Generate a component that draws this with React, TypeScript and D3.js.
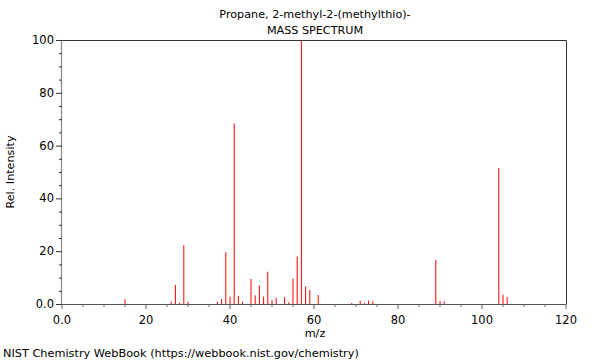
import React from "react";
import * as d3 from "d3";

const mzValues = [15, 26, 27, 28, 29, 30, 37, 38, 39, 40, 41, 42, 43, 45, 46, 47, 48, 49, 50, 51, 53, 54, 55, 56, 57, 58, 59, 61, 69, 71, 72, 73, 74, 89, 90, 91, 104, 105, 106];
const intensities = [1.8, 0.9, 7.2, 0.5, 22.3, 0.9, 0.8, 1.9, 19.6, 2.8, 68.4, 3.1, 0.9, 9.5, 3.3, 7.0, 2.8, 12.2, 1.5, 2.3, 2.6, 0.7, 9.6, 18.0, 100, 6.6, 5.3, 3.4, 0.4, 1.3, 0.4, 1.3, 1.0, 16.7, 1.1, 1.0, 51.5, 3.5, 2.6];
const xMajorTicks = [0, 20, 40, 60, 80, 100, 120];
const xTickLabels = ["0.0", "20", "40", "60", "80", "100", "120"];
const yMajorTicks = [0, 20, 40, 60, 80, 100];
const yTickLabels = ["0.0", "20", "40", "60", "80", "100"];
const titleLines = ["Propane, 2-methyl-2-(methylthio)-", "MASS SPECTRUM"];

export default function App() {
  const W = 600, H = 360;
  const left = 62, right = 566, top = 40, bottom = 304;
  const x = d3.scaleLinear().domain([0, 120]).range([left, right]);
  const y = d3.scaleLinear().domain([0, 100]).range([bottom, top]);
  const xMinor = d3.range(0, 121, 5).filter((v) => v % 20 !== 0);
  const yMinor = d3.range(0, 101, 5).filter((v) => v % 20 !== 0);
  const font = "DejaVu Sans, sans-serif";
  const cx = (left + right) / 2 - 1;
  return (
    <svg width={W} height={H} style={{ position: "absolute", left: 0, top: 0 }} fontFamily={font}>
      <rect width={W} height={H} fill="#fff" />
      <text x={cx + 2} y={18} fontSize={11.2} textAnchor="middle" fill="#000">{titleLines[0]}</text>
      <text x={cx + 2} y={34} fontSize={11.2} textAnchor="middle" fill="#000">{titleLines[1]}</text>
      {mzValues.map((m, i) => (
        <line key={m} x1={x(m)} x2={x(m)} y1={y(0)} y2={y(intensities[i])} stroke="#ff0000" strokeWidth={1} />
      ))}
      <path d={`M${left},${top + 0.5}H${right + 0.5}V${bottom}`} fill="none" stroke="#333" strokeWidth={1} />
      <line x1={left - 0.5} x2={left - 0.5} y1={top} y2={bottom} stroke="#888" strokeWidth={1.2} />
      <line x1={left} x2={right + 0.5} y1={bottom + 0.5} y2={bottom + 0.5} stroke="#555" strokeWidth={1} />
      {xMajorTicks.map((t, i) => (
        <g key={t}>
          <line x1={x(t)} x2={x(t)} y1={bottom} y2={bottom + 5} stroke="#666" />
          <text x={x(t)} y={bottom + 20} fontSize={11.5} textAnchor="middle" fill="#000">{xTickLabels[i]}</text>
        </g>
      ))}
      {xMinor.map((t) => (
        <line key={t} x1={x(t)} x2={x(t)} y1={bottom} y2={bottom + 3} stroke="#666" />
      ))}
      {yMajorTicks.map((t, i) => (
        <g key={t}>
          <line x1={left - 6} x2={left} y1={y(t) + 0.5} y2={y(t) + 0.5} stroke="#333" />
          <text x={left - 8} y={y(t) + 4} fontSize={11.5} textAnchor="end" fill="#000">{yTickLabels[i]}</text>
        </g>
      ))}
      {yMinor.map((t) => (
        <line key={t} x1={left - 3} x2={left} y1={y(t) + 0.5} y2={y(t) + 0.5} stroke="#333" />
      ))}
      <text x={cx + 2} y={337} fontSize={11.2} textAnchor="middle" fill="#000">m/z</text>
      <text transform={`translate(14,${(top + bottom) / 2}) rotate(-90)`} fontSize={11.2} textAnchor="middle" fill="#000">Rel. Intensity</text>
      <text x={3} y={357} fontSize={11.3} fill="#000">NIST Chemistry WebBook (https://webbook.nist.gov/chemistry)</text>
    </svg>
  );
}
